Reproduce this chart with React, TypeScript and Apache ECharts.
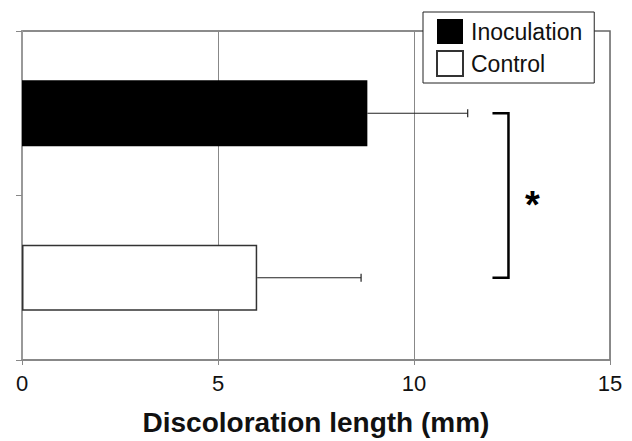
import React, { useEffect, useRef } from "react";
import * as echarts from "echarts";

const categories = ["Inoculation", "Control"];
const inoculationValues: (number | string)[] = [8.81, "-"];
const controlValues: (number | string)[] = ["-", 6.0];
const errorHigh = [11.37, 8.65];
const means = [8.81, 6.0];
const bracketX = 12.41;
const xTicks = { min: 0, max: 15, interval: 5 };
const axisTitle = "Discoloration length (mm)";
const sigMark = "*";

const FONT = '"Liberation Sans", Arial, sans-serif';

export default function App() {
  const ref = useRef<HTMLDivElement>(null);
  useEffect(() => {
    if (!ref.current) return;
    const chart = echarts.init(ref.current, undefined, { renderer: "svg" });
    const errData = categories.map((_, i) => [i, means[i], errorHigh[i]]);
    chart.setOption({
      animation: false,
      textStyle: { fontFamily: FONT },
      grid: {
        left: 22,
        right: 22,
        top: 31,
        bottom: 78,
        show: true,
        borderColor: "#666",
        borderWidth: 1.5,
        backgroundColor: "transparent",
      },
      legend: {
        orient: "vertical",
        left: 423,
        top: 12,
        padding: [7, 12, 6, 13],
        itemWidth: 26,
        itemHeight: 25,
        itemGap: 6,
        icon: "rect",
        borderColor: "#222",
        borderWidth: 1,
        borderRadius: 0,
        backgroundColor: "#fff",
        textStyle: { fontSize: 23, color: "#111", fontFamily: FONT, padding: [0, 0, 0, 3] },
        data: categories,
      },
      xAxis: {
        type: "value",
        min: xTicks.min,
        max: xTicks.max,
        interval: xTicks.interval,
        axisLine: { show: true, lineStyle: { color: "#888", width: 1.5 } },
        axisTick: { show: true, inside: false, length: 5, lineStyle: { color: "#888" } },
        splitLine: { show: true, lineStyle: { color: "#888", width: 1 } },
        axisLabel: { fontSize: 22, color: "#111", margin: 12, fontFamily: FONT },
        name: axisTitle,
        nameLocation: "middle",
        nameGap: 48,
        nameTextStyle: { fontSize: 28, fontWeight: "bold", color: "#111", fontFamily: FONT },
      },
      yAxis: {
        type: "category",
        data: categories,
        inverse: true,
        axisLine: { show: true, lineStyle: { color: "#999", width: 2 } },
        axisTick: { show: true, length: 6, lineStyle: { color: "#888" } },
        axisLabel: { show: false },
        splitLine: { show: false },
      },
      series: [
        {
          name: categories[0],
          type: "bar",
          data: inoculationValues,
          barWidth: "40%",
          barGap: "-100%",
          itemStyle: { color: "#000", borderColor: "#000", borderWidth: 0 },
        },
        {
          name: categories[1],
          type: "bar",
          data: controlValues,
          barWidth: "40%",
          barGap: "-100%",
          itemStyle: { color: "#fff", borderColor: "#333", borderWidth: 1.5 },
        },
        {
          type: "custom",
          silent: true,
          data: errData,
          encode: { y: 0, x: [1, 2] },
          z: 5,
          renderItem: (params: any, api: any) => {
            const cat = api.value(0);
            const p0 = api.coord([api.value(1), cat]);
            const p1 = api.coord([api.value(2), cat]);
            const style = { stroke: "#222", lineWidth: 1.2 };
            return {
              type: "group",
              children: [
                { type: "line", shape: { x1: p0[0], y1: p0[1], x2: p1[0], y2: p1[1] }, style },
                { type: "line", shape: { x1: p1[0], y1: p1[1] - 4, x2: p1[0], y2: p1[1] + 4 }, style },
              ],
            };
          },
        },
        {
          type: "custom",
          silent: true,
          data: [[bracketX, 0, 1]],
          encode: { x: 0, y: [1, 2] },
          z: 5,
          renderItem: (params: any, api: any) => {
            const x = api.value(0);
            const a = api.coord([x, api.value(1)]);
            const b = api.coord([x, api.value(2)]);
            const arm = 16;
            return {
              type: "group",
              children: [
                {
                  type: "polyline",
                  shape: {
                    points: [
                      [a[0] - arm, a[1]],
                      [a[0], a[1]],
                      [b[0], b[1]],
                      [b[0] - arm, b[1]],
                    ],
                  },
                  style: { stroke: "#000", lineWidth: 2.5, fill: "none" },
                },
                {
                  type: "text",
                  x: a[0] + 24,
                  y: (a[1] + b[1]) / 2 + 9,
                  style: {
                    text: sigMark,
                    font: `bold 38px ${FONT}`,
                    fill: "#000",
                    align: "center",
                    verticalAlign: "middle",
                  },
                },
              ],
            };
          },
        },
      ],
    });
    return () => chart.dispose();
  }, []);
  return (
    <div
      ref={ref}
      style={{ position: "absolute", left: 0, top: 0, width: 632, height: 441, background: "#fff" }}
    />
  );
}
